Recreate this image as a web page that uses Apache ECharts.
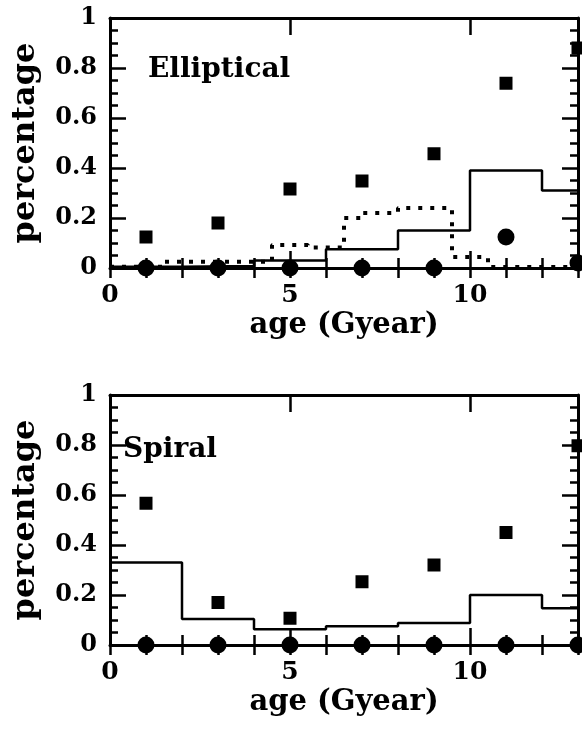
<!DOCTYPE html>
<html>
<head>
<meta charset="utf-8">
<script src="https://cdn.jsdelivr.net/npm/echarts@6/dist/echarts.min.js"></script>
<style>
  html, body { margin: 0; padding: 0; background: #fff; }
  #chart { width: 582px; height: 732px; }
</style>
</head>
<body>
<div id="chart"></div>
<script>
// bin edges (Gyear) of the solid histograms
var ageEdges = [0, 2, 4, 6, 8, 10, 12, 13];
var binCenters = [1, 3, 5, 7, 9, 11, 13];

// Elliptical panel
var ellSolid = [0.005, 0.008, 0.03, 0.075, 0.15, 0.39, 0.31];
var ellDotEdges = [0, 1.5, 4.5, 5.5, 6.5, 7, 8, 9.5, 10.5, 13];
var ellDotted = [0.005, 0.025, 0.092, 0.082, 0.2, 0.22, 0.24, 0.044, 0.004];
var ellSquares = [0.124, 0.18, 0.316, 0.348, 0.457, 0.739, 0.88];
var ellCircles = [0, 0, 0, 0, 0, 0.124, 0.02];

// Spiral panel
var spiSolid = [0.33, 0.104, 0.063, 0.075, 0.088, 0.2, 0.147];
var spiSquares = [0.567, 0.17, 0.107, 0.253, 0.32, 0.45, 0.797];
var spiCircles = [0, 0, 0, 0, 0, 0, 0];

var FONT = '"DejaVu Serif", serif';

function steps(edges, vals) {
  var pts = [];
  for (var i = 0; i < vals.length; i++) {
    pts.push([edges[i], vals[i]]);
    pts.push([edges[i + 1], vals[i]]);
  }
  return pts;
}
function pairs(xs, ys) {
  return xs.map(function (x, i) { return [x, ys[i]]; });
}

var tickStyle = { color: '#000', width: 2.5 };
var lineStyle = { color: '#000', width: 3 };

function xAxes(grid) {
  var base = { type: 'value', gridIndex: grid, min: 0, max: 13, splitLine: { show: false } };
  return [
    // bottom, labelled, long ticks
    Object.assign({}, base, {
      position: 'bottom', interval: 5,
      axisLine: { show: true, onZero: false, lineStyle: lineStyle },
      axisTick: { show: true, inside: true, length: 17, lineStyle: tickStyle },
      axisLabel: { show: true, margin: 15, showMaxLabel: false, color: '#000',
        fontFamily: FONT, fontWeight: 'bold', fontSize: 25 },
      name: 'age (Gyear)', nameLocation: 'middle', nameGap: 43,
      nameTextStyle: { color: '#000', fontFamily: FONT, fontWeight: 'bold', fontSize: 29 }
    }),
    // bottom, short ticks
    Object.assign({}, base, {
      position: 'bottom', interval: 1,
      axisLine: { show: false }, axisLabel: { show: false },
      axisTick: { show: true, inside: true, length: 10, lineStyle: tickStyle }
    }),
    // top
    Object.assign({}, base, {
      position: 'top', interval: 5,
      axisLine: { show: true, onZero: false, lineStyle: lineStyle },
      axisTick: { show: true, inside: true, length: 17, lineStyle: tickStyle },
      axisLabel: { show: false }
    }),
    Object.assign({}, base, {
      position: 'top', interval: 1,
      axisLine: { show: false }, axisLabel: { show: false },
      axisTick: { show: true, inside: true, length: 10, lineStyle: tickStyle }
    })
  ];
}

function yAxes(grid) {
  var base = {
    type: 'value', gridIndex: grid, min: 0, max: 1, interval: 0.2,
    splitLine: { show: false },
    axisLine: { show: true, onZero: false, lineStyle: lineStyle },
    axisTick: { show: true, inside: true, length: 16, lineStyle: tickStyle },
    minorTick: { show: true, splitNumber: 4, length: 8, lineStyle: tickStyle }
  };
  return [
    Object.assign({}, base, {
      position: 'left',
      axisLabel: { show: true, margin: 13, color: '#000',
        fontFamily: FONT, fontWeight: 'bold', fontSize: 24 },
      name: 'percentage', nameLocation: 'middle', nameGap: 68,
      nameTextStyle: { color: '#000', fontFamily: FONT, fontWeight: 'bold', fontSize: 32 }
    }),
    Object.assign({}, base, { position: 'right', axisLabel: { show: false } })
  ];
}

function stepSeries(xi, yi, data, dotted) {
  return {
    type: 'line', xAxisIndex: xi, yAxisIndex: yi, data: data,
    symbol: 'none', clip: false, animation: false, z: 3,
    lineStyle: dotted
      ? { color: '#000', width: 4, type: [4, 8], cap: 'butt' }
      : { color: '#000', width: 2.5 }
  };
}
function markSeries(xi, yi, data, symbol, size) {
  return {
    type: 'scatter', xAxisIndex: xi, yAxisIndex: yi, data: data,
    symbol: symbol, symbolSize: size, clip: false, animation: false, z: 4,
    itemStyle: { color: '#000', opacity: 1 }
  };
}

var chart = echarts.init(document.getElementById('chart'), null, { renderer: 'canvas' });
chart.setOption({
  backgroundColor: '#fff',
  animation: false,
  grid: [
    { left: 110, top: 18, width: 468, height: 250 },
    { left: 110, top: 395, width: 468, height: 250 }
  ],
  xAxis: xAxes(0).concat(xAxes(1)),
  yAxis: yAxes(0).concat(yAxes(1)),
  graphic: [
    { type: 'text', left: 148, top: 56,
      style: { text: 'Elliptical', fill: '#000', font: 'bold 28px ' + FONT } },
    { type: 'text', left: 123, top: 436,
      style: { text: 'Spiral', fill: '#000', font: 'bold 28px ' + FONT } }
  ],
  series: [
    stepSeries(0, 0, steps(ageEdges, ellSolid), false),
    stepSeries(0, 0, steps(ellDotEdges, ellDotted), true),
    markSeries(0, 0, pairs(binCenters, ellSquares), 'rect', 13),
    markSeries(0, 0, pairs(binCenters, ellCircles), 'circle', 17),
    stepSeries(4, 2, steps(ageEdges, spiSolid), false),
    markSeries(4, 2, pairs(binCenters, spiSquares), 'rect', 13),
    markSeries(4, 2, pairs(binCenters, spiCircles), 'circle', 17)
  ]
});
</script>
</body>
</html>
